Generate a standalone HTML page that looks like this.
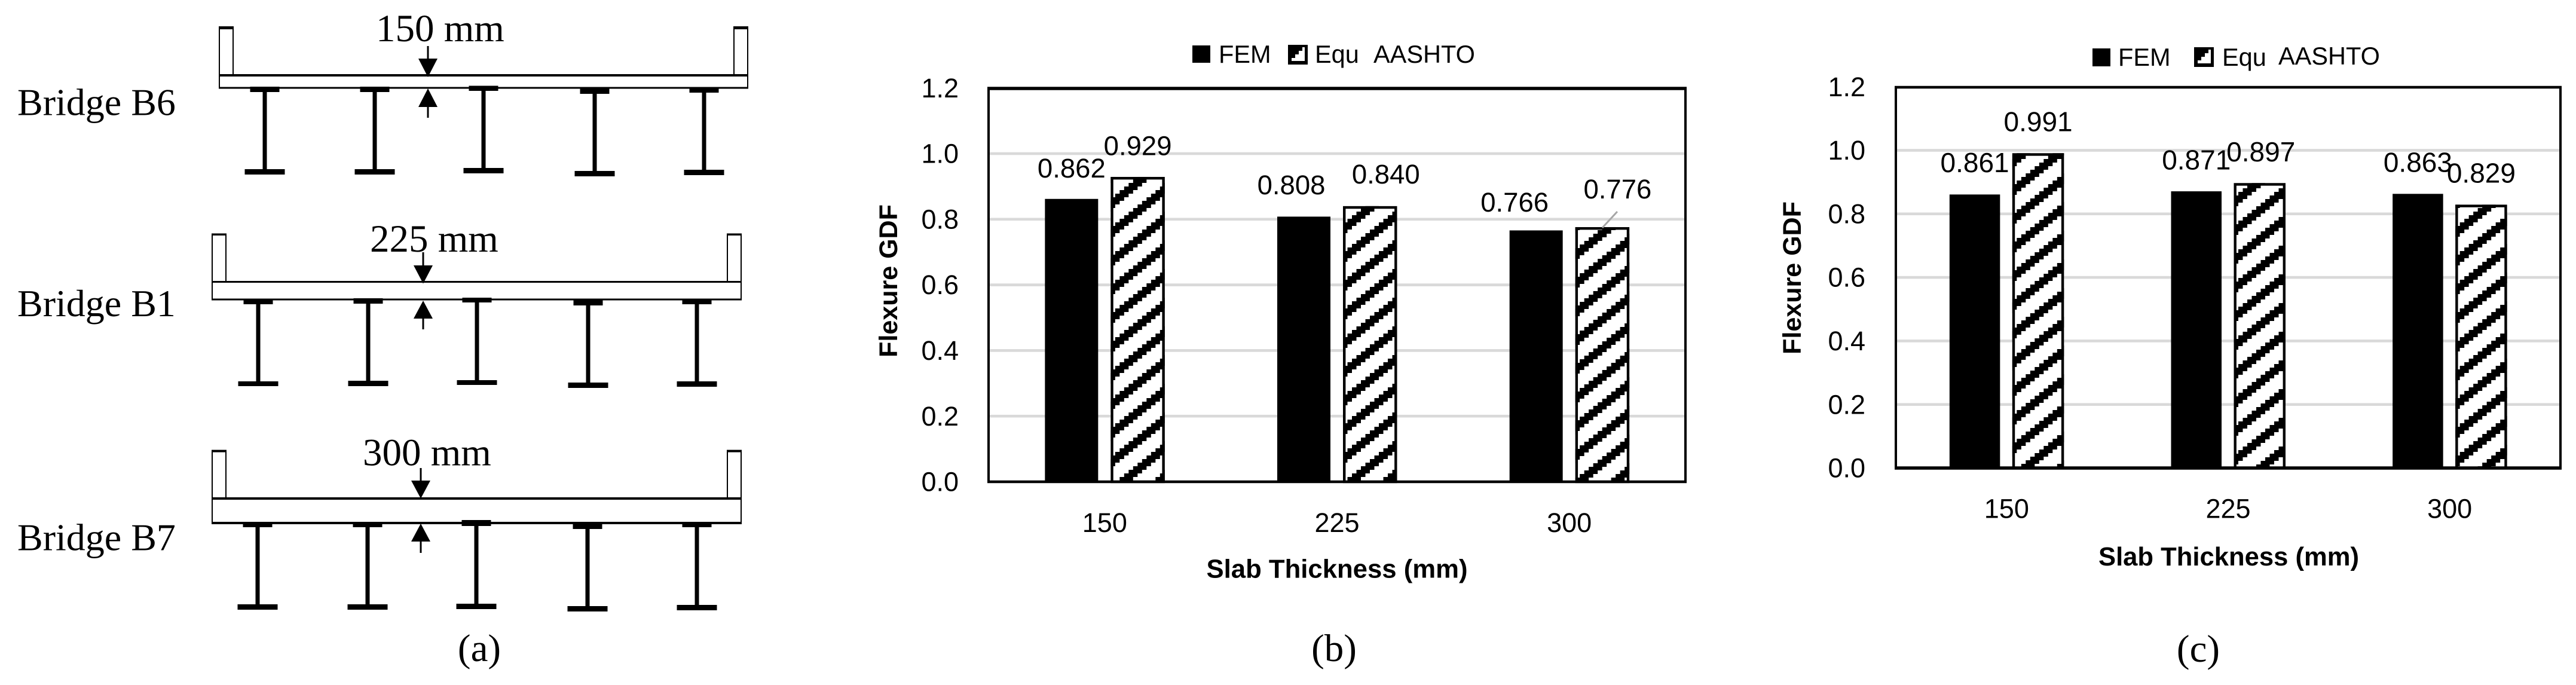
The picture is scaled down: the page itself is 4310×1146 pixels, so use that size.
<!DOCTYPE html>
<html lang="en">
<head>
<meta charset="utf-8">
<title>Bridge slab thickness and flexure GDF</title>
<style>
html,body{margin:0;padding:0;background:#fff;}
svg{display:block;}
.serif{font-family:"Liberation Serif",serif;font-size:65px;fill:#000;}
.sans{font-family:"Liberation Sans",sans-serif;fill:#000;}
</style>
</head>
<body>
<svg id="figure" xmlns="http://www.w3.org/2000/svg" width="4310" height="1146" viewBox="0 0 4310 1146">
  <rect width="4310" height="1146" fill="#fff"/>
  <defs id="defs"></defs>
  <g id="panel-a"></g>
  <g id="panel-b"></g>
  <g id="panel-c"></g>
  <text class="serif" x="802" y="1106" text-anchor="middle">(a)</text>
  <text class="serif" x="2232" y="1106" text-anchor="middle">(b)</text>
  <text class="serif" x="3678" y="1107" text-anchor="middle">(c)</text>
</svg>
<script>
// ---- chart data ----
const categories = ["150", "225", "300"];
const yTickValues = [0, 0.2, 0.4, 0.6, 0.8, 1.0, 1.2];
const femB = [0.862, 0.808, 0.766];
const equB = [0.929, 0.840, 0.776];
const femC = [0.861, 0.871, 0.863];
const equC = [0.991, 0.897, 0.829];

const SVGNS = "http://www.w3.org/2000/svg";
function mk(parent, tag, attrs, text) {
  const el = document.createElementNS(SVGNS, tag);
  for (const k in attrs) el.setAttribute(k, attrs[k]);
  if (text !== undefined) el.textContent = text;
  parent.appendChild(el);
  return el;
}

// ---- hatch pattern: 8x8 "wide upward diagonal" ----
const defs = document.getElementById("defs");
function hatch(id, ox, oy) {
  const p = mk(defs, "pattern", {
    id: id, patternUnits: "userSpaceOnUse", width: 60, height: 48,
    patternTransform: "translate(" + ox + " " + oy + ")"
  });
  mk(p, "rect", {x: 0, y: 0, width: 60, height: 48, fill: "#fff"});
  for (let i = 0; i < 8; i++) {
    for (let j = 0; j < 8; j++) {
      if ((i + j) % 8 < 3) {
        mk(p, "rect", {x: i * 7.5, y: j * 6, width: 7.5, height: 6, fill: "#000", "shape-rendering": "crispEdges"});
      }
    }
  }
}

function drawChart(root, fem, equ, L) {
  const y = v => L.y0 - L.scale * v;
  const band = (L.right - L.left) / categories.length;
  const cx = i => L.left + band * (i + 0.5);

  // gridlines + y tick labels
  yTickValues.forEach(t => {
    if (t > 0 && t < 1.2) {
      const grid = mk(root, "rect", {x: L.left, y: y(t) - 2.3, width: L.right - L.left, height: 4.6, fill: "#d9d9d9"});
      
      
    }
    const tick = mk(root, "text", {class: "sans", "font-size": 45, x: L.tickX, y: y(t) + 15.6, "text-anchor": "end"}, t.toFixed(1));
    
    
  });

  // bars
  categories.forEach((c, i) => {
    const fy = y(fem[i]);
    const bar = mk(root, "rect", {x: cx(i) - L.outerF, y: fy, width: L.outerF - 11, height: L.y0 - fy, fill: "#000"});
    
    

    const ey = y(equ[i]);
    const ex = cx(i) + L.innerE;
    const ew = L.outerE - L.innerE;
    const pid = L.id + "-hatch-" + i;
    hatch(pid, ex, L.phase[i]);
    const fill = mk(root, "rect", {x: ex, y: ey, width: ew, height: L.y0 - ey, fill: "url(#" + pid + ")"});
    
    
    const edge = mk(root, "rect", {x: ex + 2.2, y: ey + 2.2, width: ew - 4.4, height: L.y0 - ey - 2.2, fill: "none", stroke: "#000", "stroke-width": 4.4});
    
    

    // data labels
    const fn = L.femNudge[i];
    const fl = mk(root, "text", {class: "sans", "font-size": L.labelSize, x: cx(i) + (-L.outerF - 11) / 2 + fn[0], y: fy + fn[1], "text-anchor": "middle"}, fem[i].toFixed(3));
    
    
    const en = L.equNudge[i];
    const el = mk(root, "text", {class: "sans", "font-size": L.labelSize, x: ex + ew / 2 + en[0], y: ey + en[1], "text-anchor": "middle"}, equ[i].toFixed(3));
    
    

    if (L.leader === i) {
      const ln = mk(root, "line", {x1: ex + ew / 2 + 25, y1: ey - 26, x2: ex + ew / 2, y2: ey + 1, stroke: "#a6a6a6", "stroke-width": 3});
      
      
    }

    const cat = mk(root, "text", {class: "sans", "font-size": 45, x: cx(i), y: L.y0 + L.catDy, "text-anchor": "middle"}, c);
    
    
  });

  // plot frame
  const frame = [
    [L.left - 2, L.top - L.topW / 2, L.right - L.left + 4, L.topW],
    [L.left - 2, L.y0 - L.botW / 2, L.right - L.left + 4, L.botW],
    [L.left - 2, L.top, 4, L.y0 - L.top],
    [L.right - 2, L.top, 4, L.y0 - L.top]
  ];
  frame.forEach(f => {
    const r = mk(root, "rect", {x: f[0], y: f[1], width: f[2], height: f[3], fill: "#000"});
    
    
  });

  // axis titles
  const xt = mk(root, "text", {class: "sans", "font-size": 43.5, "font-weight": "bold", x: L.xTitleX, y: L.xTitleY, "text-anchor": "middle", textLength: L.xTitleW, lengthAdjust: "spacingAndGlyphs"}, "Slab Thickness (mm)");
  
  
  const yt = mk(root, "text", {class: "sans", "font-size": 43, "font-weight": "bold", "text-anchor": "middle", transform: "translate(" + L.yTitleX + " " + L.yTitleY + ") rotate(-90)"}, "Flexure GDF");
  
  

  // legend
  const G = L.legend;
  const sw1 = mk(root, "rect", {x: G.sq[0], y: G.sq[1], width: G.sq[2], height: G.sq[3], fill: "#000"});
  
  
  const t1 = mk(root, "text", {class: "sans", "font-size": 41.5, x: G.femX, y: G.base}, "FEM");
  
  
  const bx = G.box[0], by = G.box[1], s = G.box[2] / 33;
  const sw2 = mk(root, "rect", {x: bx, y: by, width: G.box[2], height: G.box[2], fill: "#000"});
  
  
  const stairs = [[6,22],[12,22],[12,16],[18,16],[18,10],[24,10],[24,4],[28,4],[28,27],[6,27]]
    .map(p => (bx + p[0] * s) + "," + (by + p[1] * s)).join(" ");
  const sw3 = mk(root, "polygon", {points: stairs, fill: "#fff"});
  
  
  const t2 = mk(root, "text", {class: "sans", "font-size": 41.5, x: G.equX, y: G.base}, "Equ");
  
  
  const t3 = mk(root, "text", {class: "sans", "font-size": 41.5, x: G.aaX, y: G.aaBase}, "AASHTO");
  
  
}

drawChart(document.getElementById("panel-b"), femB, equB, {
  id: "b", left: 1654, right: 2820, top: 148, y0: 806, scale: 549, topW: 5.5, botW: 4.5,
  tickX: 1604, outerF: 100, innerE: 10, outerE: 100.5, labelSize: 45.5, catDy: 84,
  phase: [618, 612, 607],
  femNudge: [[0, -36], [-21, -37.4], [-36, -31.5]],
  equNudge: [[0, -36.5], [26.5, -38], [25.5, -48]],
  leader: 2,
  xTitleX: 2237, xTitleY: 966.5, xTitleW: 437, yTitleX: 1501, yTitleY: 470,
  legend: {sq: [1995, 76, 30, 29], femX: 2039, base: 105, box: [2155, 75, 33], equX: 2200, aaX: 2298, aaBase: 105}
});

drawChart(document.getElementById("panel-c"), femC, equC, {
  id: "c", left: 3172, right: 4284, top: 146, y0: 783, scale: 531.5, topW: 4.5, botW: 5.5,
  tickX: 3121, outerF: 95.5, innerE: 9.5, outerE: 96, labelSize: 46, catDy: 83.4,
  phase: [596, 615, 618],
  femNudge: [[0, -37.5], [0, -36.4], [0, -37]],
  equNudge: [[0, -37], [2, -36], [0, -37]],
  leader: -1,
  xTitleX: 3729, xTitleY: 946, xTitleW: 436, yTitleX: 3013, yTitleY: 465,
  legend: {sq: [3501, 81, 30, 30], femX: 3544, base: 110, box: [3671, 79, 33], equX: 3718, aaX: 3812, aaBase: 108}
});

// ---- panel (a): bridge cross-sections ----
const bridges = [
  {name: "B6", thick: "150 mm", labelY: 192.5, textX: 629, textY: 69, deckX: 366, deckW: 886, paraTop: 45, paraW: 25, paraTopW: 4,
   deckTop: 126, deckBot: 147, deckTopW: 4, deckBotW: 3, arrowX: 716, arrowDownTop: 77, arrowDownHead: 98, arrowDownTip: 129, arrowUpTip: 148, arrowUpBase: 179, arrowUpEnd: 197,
   girderX: [443, 627, 809, 995, 1178],
   topFlange: [[145, 154], [145, 154], [143.5, 152], [147, 157], [147, 155]],
   botFlange: [[283, 292], [283, 292], [281, 290], [286, 295], [284, 293]]},
  {name: "B1", thick: "225 mm", labelY: 529, textX: 619, textY: 421, deckX: 354, deckW: 887, paraTop: 391.5, paraW: 25, paraTopW: 2.5,
   deckTop: 471.5, deckBot: 501, deckTopW: 3, deckBotW: 3, arrowX: 708, arrowDownTop: 422, arrowDownHead: 444, arrowDownTip: 474.5, arrowUpTip: 503, arrowUpBase: 533, arrowUpEnd: 551,
   girderX: [432, 616, 798, 984, 1166],
   topFlange: [[501, 509], [499, 508], [498, 506], [501, 511], [501, 509]],
   botFlange: [[638, 646], [637, 646], [636, 644], [640, 649], [638, 647]]},
  {name: "B7", thick: "300 mm", labelY: 920.5, textX: 607, textY: 778.5, deckX: 354, deckW: 887, paraTop: 753.6, paraW: 25, paraTopW: 3,
   deckTop: 834, deckBot: 875, deckTopW: 4, deckBotW: 4, arrowX: 704, arrowDownTop: 783, arrowDownHead: 804, arrowDownTip: 834, arrowUpTip: 876, arrowUpBase: 906, arrowUpEnd: 925,
   girderX: [431, 615, 797, 983, 1166],
   topFlange: [[876, 882], [876, 882], [870, 880], [876, 885], [876, 882]],
   botFlange: [[1011, 1020], [1011, 1020], [1010, 1019], [1014, 1023], [1012, 1021]]}
];
const panelA = document.getElementById("panel-a");
bridges.forEach(b => {
  const g = mk(panelA, "g", {});
  
  

  const label = mk(g, "text", {class: "serif", "font-size": 64, style: "font-size:64px", x: 29, y: b.labelY}, "Bridge " + b.name);
  
  
  const thick = mk(g, "text", {class: "serif", x: b.textX, y: b.textY}, b.thick);
  
  

  [b.deckX, b.deckX + b.deckW - b.paraW].forEach(px => {
    const side = mk(g, "rect", {x: px + 1, y: b.paraTop, width: b.paraW - 2, height: b.deckTop - b.paraTop, fill: "#fff", stroke: "#000", "stroke-width": 2});
    
    
    const cap = mk(g, "rect", {x: px, y: b.paraTop, width: b.paraW, height: b.paraTopW, fill: "#000"});
    
    
  });

  b.girderX.forEach((gx, i) => {
    const tf = b.topFlange[i], bf = b.botFlange[i];
    const web = mk(g, "rect", {x: gx - 3.5, y: tf[0], width: 7, height: bf[0] - tf[0], fill: "#000"});
    
    
    const top = mk(g, "rect", {x: gx - 24.5, y: tf[0], width: 49, height: tf[1] - tf[0], fill: "#000"});
    
    
    const bot = mk(g, "rect", {x: gx - 33.5, y: bf[0], width: 67, height: bf[1] - bf[0], fill: "#000"});
    
    
  });

  const sideL = mk(g, "rect", {x: b.deckX, y: b.deckTop, width: 2, height: b.deckBot - b.deckTop, fill: "#000"});
  
  
  const sideR = mk(g, "rect", {x: b.deckX + b.deckW - 2, y: b.deckTop, width: 2, height: b.deckBot - b.deckTop, fill: "#000"});
  
  
  const dt = mk(g, "rect", {x: b.deckX, y: b.deckTop - b.deckTopW / 2, width: b.deckW, height: b.deckTopW, fill: "#000"});
  
  
  const db = mk(g, "rect", {x: b.deckX, y: b.deckBot - b.deckBotW / 2, width: b.deckW, height: b.deckBotW, fill: "#000"});
  
  

  const a = b.arrowX;
  const s1 = mk(g, "rect", {x: a - 1.5, y: b.arrowDownTop, width: 3, height: b.arrowDownHead - b.arrowDownTop, fill: "#000"});
  
  
  const h1 = mk(g, "polygon", {points: (a - 16) + "," + b.arrowDownHead + " " + (a + 16) + "," + b.arrowDownHead + " " + a + "," + b.arrowDownTip, fill: "#000"});
  
  
  const s2 = mk(g, "rect", {x: a - 1.5, y: b.arrowUpBase, width: 3, height: b.arrowUpEnd - b.arrowUpBase, fill: "#000"});
  
  
  const h2 = mk(g, "polygon", {points: (a - 16) + "," + b.arrowUpBase + " " + (a + 16) + "," + b.arrowUpBase + " " + a + "," + b.arrowUpTip, fill: "#000"});
  
  
});
</script>
</body>
</html>
